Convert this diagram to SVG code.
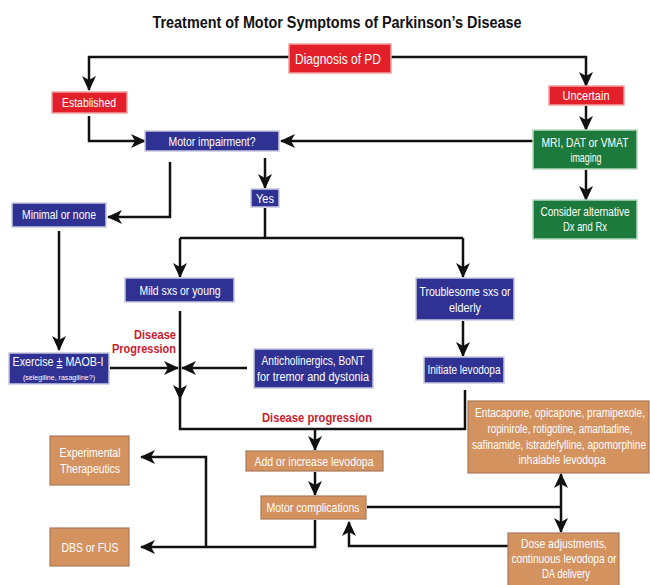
<svg xmlns="http://www.w3.org/2000/svg" width="650" height="585" viewBox="0 0 650 585">
<defs>
<style>
.t{font-family:"Liberation Sans Narrow","Liberation Sans",Arial,sans-serif;font-size:13px;fill:#fff;text-anchor:middle}
.s{font-size:7px}
.e{font-size:12px}
.ttl{font-family:"Liberation Sans Narrow","Liberation Sans",Arial,sans-serif;font-size:16px;font-weight:bold;fill:#111;text-anchor:middle}
.dp{font-family:"Liberation Sans Narrow","Liberation Sans",Arial,sans-serif;font-size:13px;font-weight:bold;fill:#c8202f}
.red{fill:#e3202a;stroke:#f0a0a0;stroke-width:1.5}
.blue{fill:#2f3293;stroke:#c8c8e0;stroke-width:1.5}
.green{fill:#1c7a3c;stroke:#b8d8c0;stroke-width:1.5}
.or{fill:#d4925f;stroke:#a87a5a;stroke-width:1.2}
.c{fill:none;stroke:#111;stroke-width:2.5}
</style>
<marker id="ah" markerUnits="userSpaceOnUse" markerWidth="16" markerHeight="14" refX="14" refY="7" orient="auto-start-reverse">
<path d="M0,0 L15,7 L0,14 L4,7 Z" fill="#111"/>
</marker>
</defs>
<rect width="650" height="585" fill="#fff"/>
<text class="ttl" x="337" y="28" textLength="369" lengthAdjust="spacingAndGlyphs">Treatment of Motor Symptoms of Parkinson’s Disease</text>

<g id="connectors">
<path class="c" d="M289,57 H89 V90" marker-end="url(#ah)"/>
<path class="c" d="M391,57 H586 V86" marker-end="url(#ah)"/>
<path class="c" d="M586,106 V130" marker-end="url(#ah)"/>
<path class="c" d="M586,170 V200" marker-end="url(#ah)"/>
<path class="c" d="M533,141 H281" marker-end="url(#ah)"/>
<path class="c" d="M89,116 V141 H145" marker-end="url(#ah)"/>
<path class="c" d="M170,162 V217 H108" marker-end="url(#ah)"/>
<path class="c" d="M265,158 V188" marker-end="url(#ah)"/>
<path class="c" d="M265,208 V238 M180,238 H463"/>
<path class="c" d="M180,238 V277" marker-end="url(#ah)"/>
<path class="c" d="M463,238 V277" marker-end="url(#ah)"/>
<path class="c" d="M59,231 V350" marker-end="url(#ah)"/>
<path class="c" d="M180,311 V399" marker-end="url(#ah)"/>
<path class="c" d="M180,398 V429 H465 V390"/>
<path class="c" d="M110,368 H178" marker-end="url(#ah)"/>
<path class="c" d="M247,368 H182" marker-end="url(#ah)"/>
<path class="c" d="M463,321 V356" marker-end="url(#ah)"/>
<path class="c" d="M315,429 V450" marker-end="url(#ah)"/>
<path class="c" d="M315,472 V495" marker-end="url(#ah)"/>
<path class="c" d="M315,520 V547 H141" marker-end="url(#ah)"/>
<path class="c" d="M206,547 V457 H141" marker-end="url(#ah)"/>
<path class="c" d="M367,507 H561"/>
<path class="c" d="M561,474 V532" marker-start="url(#ah)" marker-end="url(#ah)"/>
<path class="c" d="M508,546 H349 V522" marker-end="url(#ah)"/>
</g>

<g id="diagnosis"><rect class="red" x="289" y="44" width="102" height="29"/><text class="t" x="338" y="64" style="font-size:14px" textLength="86" lengthAdjust="spacingAndGlyphs">Diagnosis of PD</text></g>
<g id="established"><rect class="red" x="52" y="92" width="75" height="21"/><text class="t" x="89" y="107" textLength="54" lengthAdjust="spacingAndGlyphs">Established</text></g>
<g id="uncertain"><rect class="red" x="549" y="86" width="75" height="19"/><text class="t" x="586" y="100" textLength="47" lengthAdjust="spacingAndGlyphs">Uncertain</text></g>
<g id="motor-impairment"><rect class="blue" x="145" y="131" width="134" height="20"/><text class="t" x="212" y="146" textLength="87" lengthAdjust="spacingAndGlyphs">Motor impairment?</text></g>
<g id="imaging"><rect class="green" x="533" y="130" width="104" height="39"/><text class="t" x="585" y="147" textLength="87" lengthAdjust="spacingAndGlyphs">MRI, DAT or VMAT</text><text class="t" x="586" y="162" textLength="31" lengthAdjust="spacingAndGlyphs">imaging</text></g>
<g id="consider"><rect class="green" x="533" y="200" width="104" height="39"/><text class="t e" x="585" y="216" textLength="89" lengthAdjust="spacingAndGlyphs">Consider alternative</text><text class="t" x="585" y="231" textLength="44" lengthAdjust="spacingAndGlyphs">Dx and Rx</text></g>
<g id="minimal"><rect class="blue" x="12" y="203" width="94" height="24"/><text class="t" x="59" y="219" textLength="74" lengthAdjust="spacingAndGlyphs">Minimal or none</text></g>
<g id="yes"><rect class="blue" x="251" y="189" width="28" height="18"/><text class="t" x="265" y="203" textLength="18" lengthAdjust="spacingAndGlyphs">Yes</text></g>
<g id="mild"><rect class="blue" x="125" y="278" width="109" height="24"/><text class="t" x="180" y="295" textLength="81" lengthAdjust="spacingAndGlyphs">Mild sxs or young</text></g>
<g id="troublesome"><rect class="blue" x="416" y="278" width="98" height="42"/><text class="t" x="465" y="296" textLength="91" lengthAdjust="spacingAndGlyphs">Troublesome sxs or</text><text class="t" x="465" y="312" textLength="32" lengthAdjust="spacingAndGlyphs">elderly</text></g>
<g id="exercise"><rect class="blue" x="9" y="353" width="100" height="31"/><text class="t" x="58" y="366" style="font-size:12px" textLength="91" lengthAdjust="spacingAndGlyphs">Exercise <tspan text-decoration="underline">±</tspan> MAOB-I</text><text class="t s" x="59" y="380" textLength="72" lengthAdjust="spacingAndGlyphs">(selegiline, rasagiline?)</text></g>
<g id="anticholinergics"><rect class="blue" x="254" y="349" width="119" height="39"/><text class="t" x="313" y="365" textLength="103" lengthAdjust="spacingAndGlyphs">Anticholinergics, BoNT</text><text class="t" x="313" y="381" textLength="112" lengthAdjust="spacingAndGlyphs">for tremor and dystonia</text></g>
<g id="initiate"><rect class="blue" x="424" y="357" width="80" height="26"/><text class="t" x="464" y="374" textLength="73" lengthAdjust="spacingAndGlyphs">Initiate levodopa</text></g>
<g id="labels">
<text class="dp" x="176" y="339" text-anchor="end" textLength="42" lengthAdjust="spacingAndGlyphs">Disease</text>
<text class="dp" x="176" y="353" text-anchor="end" textLength="64" lengthAdjust="spacingAndGlyphs">Progression</text>
<text class="dp" x="317" y="422" text-anchor="middle" textLength="110" lengthAdjust="spacingAndGlyphs">Disease progression</text>
</g>
<g id="adjuncts"><rect class="or" x="468" y="401" width="181" height="72"/>
<text class="t e" x="560" y="417" textLength="170" lengthAdjust="spacingAndGlyphs">Entacapone, opicapone, pramipexole,</text>
<text class="t e" x="560" y="433" textLength="145" lengthAdjust="spacingAndGlyphs">ropinirole, rotigotine, amantadine,</text>
<text class="t e" x="559" y="449" textLength="174" lengthAdjust="spacingAndGlyphs">safinamide, istradefylline, apomorphine</text>
<text class="t e" x="562" y="464" textLength="87" lengthAdjust="spacingAndGlyphs">inhalable levodopa</text></g>
<g id="experimental"><rect class="or" x="50" y="436" width="79" height="49"/><text class="t" x="90" y="457" textLength="61" lengthAdjust="spacingAndGlyphs">Experimental</text><text class="t" x="90" y="473" textLength="60" lengthAdjust="spacingAndGlyphs">Therapeutics</text></g>
<g id="add-levodopa"><rect class="or" x="246" y="451" width="137" height="20"/><text class="t" x="314" y="466" textLength="119" lengthAdjust="spacingAndGlyphs">Add or increase levodopa</text></g>
<g id="motor-complications"><rect class="or" x="261" y="496" width="105" height="23"/><text class="t" x="313" y="512" textLength="93" lengthAdjust="spacingAndGlyphs">Motor complications</text></g>
<g id="dbs"><rect class="or" x="50" y="528" width="79" height="38"/><text class="t" x="90" y="552" textLength="57" lengthAdjust="spacingAndGlyphs">DBS or FUS</text></g>
<g id="dose"><rect class="or" x="508" y="533" width="111" height="56"/><text class="t" x="564" y="548" textLength="86" lengthAdjust="spacingAndGlyphs">Dose adjustments,</text><text class="t" x="564" y="563" textLength="105" lengthAdjust="spacingAndGlyphs">continuous levodopa or</text><text class="t" x="566" y="578" textLength="48" lengthAdjust="spacingAndGlyphs">DA delivery</text></g>
</svg>
